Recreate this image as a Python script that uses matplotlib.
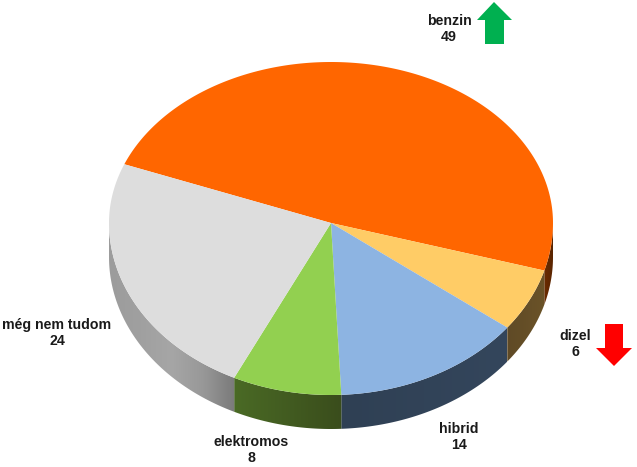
import matplotlib
matplotlib.use('Agg')
import matplotlib.pyplot as plt
from matplotlib.colors import LinearSegmentedColormap
from matplotlib.patches import Polygon
import numpy as np

plt.rcParams['font.family'] = ['Liberation Sans', 'DejaVu Sans']

labels = ['benzin', 'dizel', 'hibrid', 'elektromos', 'még nem tudom']
values = [49, 6, 14, 8, 24]
colors = ['#FF6600', '#FFCC66', '#8DB4E2', '#92D050', '#DDDDDD']
# side colours, listed from left to right
side_colors = [['#6b2c00', '#5a2400'],
               ['#5f4a26', '#6b5328'],
               ['#2f4054', '#34465c'],
               ['#4a6a25', '#3a4d1c'],
               ['#9c9c9c', '#a0a0a0', '#a6a6a6', '#989898', '#7a7a7a']]

# pie geometry in pixels of the reference
cx, cy = 331, 223
a = 222
b_top, b_bot = 161, 172
depth = 34
start = 158.6


def rim(theta):
    t = np.radians(theta)
    s = np.sin(t)
    b = np.where(s > 0, b_top, b_bot)
    return cx + a * np.cos(t), cy - b * s


fig = plt.figure(figsize=(6.37, 4.67), dpi=100)
ax = fig.add_axes([0, 0, 1, 1])

sweeps = np.array(values) / sum(values) * 360
ends = start - np.cumsum(sweeps)
starts = ends + sweeps

# sides first, only the lower half of the rim shows
for t0, t1, sc in zip(starts, ends, side_colors):
    lo = np.linspace(min(t0, 0), max(t1, -180), 120)
    x, y = rim(lo)
    px = np.r_[x, x[::-1]]
    py = np.r_[y, y[::-1] + depth]
    poly = Polygon(np.c_[px, py], closed=True, fc='none', ec='none')
    ax.add_patch(poly)
    cmap = LinearSegmentedColormap.from_list('side', sc)
    grad = np.linspace(0, 1, 256).reshape(1, -1)
    im = ax.imshow(grad, cmap=cmap, aspect='auto', zorder=1,
                   extent=[px.min(), px.max(), py.max(), py.min()])
    im.set_clip_path(poly)

# top face
for t0, t1, c in zip(starts, ends, colors):
    th = np.linspace(t0, t1, 200)
    x, y = rim(th)
    ax.fill(np.r_[cx, x], np.r_[cy, y], color=c, lw=0, zorder=2)

# labels
label_pos = [(449, 29), (575, 344), (459, 437), (251, 450), (57, 333)]
for name, v, (lx, ly) in zip(labels, values, label_pos):
    ax.text(lx, ly, f'{name}\n{v}', ha='center', va='center', fontsize=10.2,
            fontweight='bold', color='#1a1a1a', linespacing=1.2, zorder=3)

# trend arrows
up = np.array([[485, 44], [485, 20], [477, 20], [494, 2], [512, 20], [504, 20], [504, 44]])
down = np.array([[605, 324], [623, 324], [623, 348], [632, 348], [614, 366], [596, 348], [605, 348]])
ax.add_patch(Polygon(up, closed=True, fc='#00B050', ec='none', zorder=3))
ax.add_patch(Polygon(down, closed=True, fc='#FF0000', ec='none', zorder=3))

ax.set_xlim(0, 637)
ax.set_ylim(467, 0)
ax.axis('off')

fig.savefig('out.png', dpi=100)
